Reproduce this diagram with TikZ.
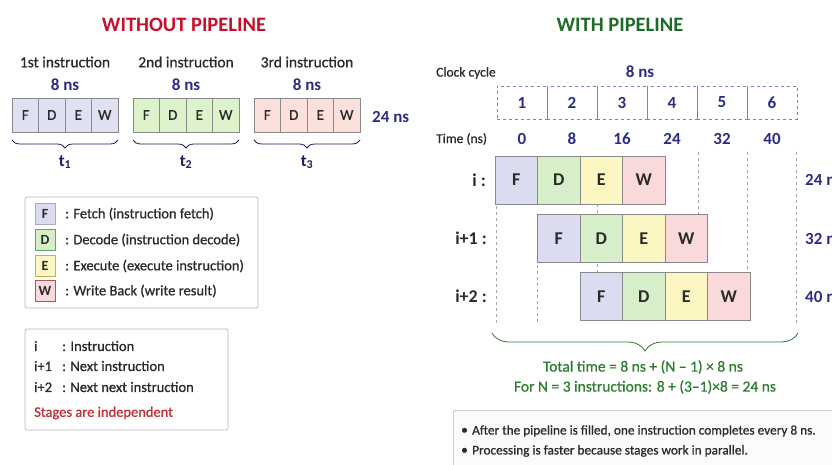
\documentclass[tikz,border=0pt]{standalone}
\usepackage{fontspec}
\setmainfont{Carlito}
\newfontfamily\semi{Carlito}[FakeBold=0.8]
\usetikzlibrary{decorations.pathreplacing}
\definecolor{navy}{HTML}{2B2B8C}
\definecolor{tred}{HTML}{C8102E}
\definecolor{tgreen}{HTML}{1E6B2A}
\definecolor{fgreen}{HTML}{2F7D32}
\definecolor{sred}{HTML}{C0303A}
\definecolor{txt}{HTML}{2A2A2A}
\definecolor{cF}{HTML}{DCDCF0}
\definecolor{cD}{HTML}{D6EFC9}
\definecolor{cE}{HTML}{FBF6C2}
\definecolor{cW}{HTML}{F9D9D9}
\definecolor{g1}{HTML}{DFE0F2}
\definecolor{g2}{HTML}{DCF3CC}
\definecolor{g3}{HTML}{FBE0DC}
\definecolor{bord}{HTML}{8A8A8A}
\newcommand\fsz[1]{\fontsize{#1}{#1}\selectfont}
\begin{document}
\begin{tikzpicture}[x=1pt,y=-1pt,
  lcell/.style={draw=bord, line width=0.6pt, minimum width=26.5pt, minimum height=34pt, inner sep=0pt, font=\fsz{15}\semi, text=txt},
  pcell/.style={draw=bord, line width=0.6pt, minimum width=42.5pt, minimum height=48pt, inner sep=0pt, font=\fsz{18}\bfseries, text=txt},
  ccell/.style={draw=navy!60, dashed, line width=0.6pt, minimum width=50pt, minimum height=33pt, inner sep=0pt, font=\fsz{17}\bfseries, text=navy},
  sq/.style={line width=0.6pt, minimum width=20pt, minimum height=21pt, inner sep=0pt, font=\fsz{14}\bfseries, text=txt},
  hdr/.style={font=\fsz{15.5}\semi, text=txt, inner sep=0pt},
  blue/.style={font=\fsz{17}\bfseries, text=navy, inner sep=0pt},
  lbl/.style={font=\fsz{14.5}\semi, text=txt, inner sep=0pt, anchor=west},
  guide/.style={draw=gray!70, dashed, line width=0.6pt},
  panel/.style={draw=gray!55, line width=0.7pt, rounded corners=2pt, fill=white, inner sep=0pt},
  brc/.style={decorate, decoration={brace, mirror, amplitude=#1}, line width=0.8pt}
]
\useasboundingbox (0,0) rectangle (832,465);

% ---------------- WITHOUT PIPELINE ----------------
\node[font=\fsz{20.5}\bfseries, text=tred, inner sep=0pt] (tl) at (184,25) {WITHOUT PIPELINE};

\foreach \gx/\nm/\fc/\hd/\tt in {12/a/g1/1st instruction/1, 133/b/g2/2nd instruction/2, 254/c/g3/3rd instruction/3}{
  \node[hdr] (\nm h) at (\gx+53,62) {\hd};
  \node[blue] (\nm n) at (\gx+53,85) {8 ns};
  \foreach \L [count=\i from 0] in {F,D,E,W}{
    \node[lcell, fill=\fc] (\nm\i) at (\gx+13.25+26.5*\i,115) {\L};
  }
  \coordinate (\nm bl) at (\gx,140);
  \coordinate (\nm br) at (\gx+106,140);
  \draw[brc=8, draw=navy!60!black] (\nm bl) -- (\nm br);
  \node[font=\fsz{17}\bfseries, text=navy!70!black, inner sep=0pt] (\nm t) at (\gx+53,162) {t\textsubscript{\fsz{12}\tt}};
}
\node[blue, anchor=west] (tot) at (372,117) {24 ns};

% legend box 1
\node[panel, minimum width=233pt, minimum height=111pt] (leg) at (141.5,252.5) {};
\node[sq, draw=navy!40, fill=cF] (sF) at (45,214) {F};
\node[sq, draw=green!40!black!60, fill=cD] (sD) at (45,240) {D};
\node[sq, draw=olive!60, fill=cE] (sE) at (45,266) {E};
\node[sq, draw=red!30!gray, fill=cW] (sW) at (45,291) {W};
\node[lbl] (lF) at (65,214) {: Fetch (instruction fetch)};
\node[lbl] (lD) at (65,240) {: Decode (instruction decode)};
\node[lbl] (lE) at (65,266) {: Execute (execute instruction)};
\node[lbl] (lW) at (65,291) {: Write Back (write result)};

% legend box 2
\node[panel, minimum width=203pt, minimum height=101pt] (leg2) at (126.5,379.5) {};
\node[lbl] (k1) at (34,346) {i};
\node[lbl] (k2) at (34,366) {i+1};
\node[lbl] (k3) at (34,387) {i+2};
\node[lbl] (v1) at (62,346) {: Instruction};
\node[lbl] (v2) at (62,366) {: Next instruction};
\node[lbl] (v3) at (62,387) {: Next next instruction};
\node[lbl, text=sred] (ind) at (34,413) {Stages are independent};

% ---------------- WITH PIPELINE ----------------
\node[font=\fsz{20.5}\bfseries, text=tgreen, inner sep=0pt] (tr) at (620,25) {WITH PIPELINE};
\node[hdr, anchor=west, font=\fsz{13.5}\semi] (cc) at (436,73) {Clock cycle};
\node[blue] (cn) at (640,72) {8 ns};
\foreach \k in {1,...,6}{
  \node[ccell] (c\k) at (472+50*\k,102.5) {\k};
}
\node[hdr, anchor=west, font=\fsz{13.5}\semi] (tn) at (436,139) {Time (ns)};
\foreach \v [count=\k from 0] in {0,8,16,24,32,40}{
  \node[blue] (tv\k) at (522+50*\k,139) {\v};
}

% guide lines (behind the boxes)
\draw[guide] (496,206) -- (496,323);
\draw[guide] (537.5,265) -- (537.5,323);
\draw[guide] (597,204) -- (597,272);
\draw[guide] (698,152) -- (698,214);
\draw[guide] (747,152) -- (747,272);
\draw[guide] (796,152) -- (796,323);

% pipeline rows
\foreach \px/\py/\nm in {495/180/p, 537.5/238.5/q, 580/296.5/r}{
  \foreach \L/\fc [count=\i from 0] in {F/cF,D/cD,E/cE,W/cW}{
    \node[pcell, fill=\fc] (\nm\i) at (\px+21.25+42.5*\i,\py) {\L};
  }
}
\node[font=\fsz{18}\bfseries, text=txt, anchor=east, inner sep=0pt] (ri) at (486,180) {i :};
\node[font=\fsz{18}\bfseries, text=txt, anchor=east, inner sep=0pt] (rq) at (487,238.5) {i+1 :};
\node[font=\fsz{18}\bfseries, text=txt, anchor=east, inner sep=0pt] (rr) at (487,296.5) {i+2 :};
\node[blue, anchor=west] (e1) at (805,180) {24 ns};
\node[blue, anchor=west] (e2) at (805,238.5) {32 ns};
\node[blue, anchor=west] (e3) at (805,296.5) {40 ns};

% total brace
\coordinate (bl) at (492,333);
\coordinate (br) at (798,333);
\draw[brc=18, draw=fgreen] (bl) -- (br);
\node[font=\fsz{15.5}\semi, text=fgreen, inner sep=0pt] (f1) at (643,367) {Total time = 8 ns + (N – 1) × 8 ns};
\node[font=\fsz{15.5}\semi, text=fgreen, inner sep=0pt] (f2) at (645,387) {For N = 3 instructions: 8 + (3–1)×8 = 24 ns};

% note box
\node[panel, fill=gray!3, minimum width=400pt, minimum height=80pt, anchor=north west] (note) at (453,410) {};
\node[lbl, font=\fsz{13.3}\semi] (b1) at (461,431) {•};
\node[lbl, font=\fsz{13.3}\semi] (n1) at (472,431) {After the pipeline is filled, one instruction completes every 8 ns.};
\node[lbl, font=\fsz{13.3}\semi] (b2) at (461,451) {•};
\node[lbl, font=\fsz{13.3}\semi] (n2) at (472,451) {Processing is faster because stages work in parallel.};
\end{tikzpicture}
\end{document}
